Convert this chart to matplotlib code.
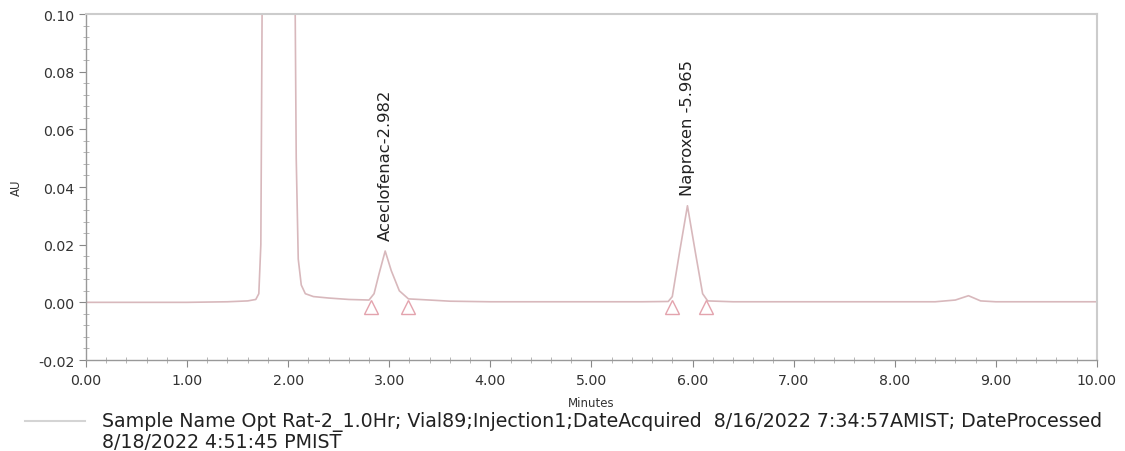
import matplotlib
matplotlib.use("Agg")
import matplotlib.pyplot as plt
from matplotlib.ticker import MultipleLocator, FormatStrFormatter
from matplotlib.lines import Line2D

plt.rcParams['font.family'] = ['DejaVu Sans']

# Chromatogram trace (minutes, AU)
time_min = [0.00, 0.50, 1.00, 1.40, 1.60, 1.68, 1.71, 1.73, 1.75, 1.80, 2.00, 2.06, 2.08,
            2.10, 2.13, 2.17, 2.25, 2.40, 2.60, 2.80, 2.85, 2.90, 2.96, 3.02, 3.10, 3.19,
            3.40, 3.60, 4.00, 4.50, 5.00, 5.50, 5.76, 5.80, 5.87, 5.95, 6.03, 6.10, 6.15,
            6.40, 7.00, 8.00, 8.40, 8.60, 8.73, 8.85, 9.00, 9.50, 10.00]
absorb_au = [0.0000, 0.0000, 0.0000, 0.0002, 0.0005, 0.0010, 0.0030, 0.0200, 0.1500, 0.6000, 0.6000, 0.1500, 0.0500,
             0.0150, 0.0060, 0.0030, 0.0020, 0.0015, 0.0010, 0.0008, 0.0030, 0.0100, 0.0178, 0.0110, 0.0040, 0.0012,
             0.0008, 0.0004, 0.0002, 0.0002, 0.0002, 0.0002, 0.0003, 0.0020, 0.0170, 0.0335, 0.0170, 0.0030, 0.0005,
             0.0002, 0.0002, 0.0002, 0.0002, 0.0008, 0.0023, 0.0005, 0.0002, 0.0002, 0.0002]

# Integration markers (peak start/end)
marker_times = [2.82, 3.19, 5.80, 6.13]
marker_au = [-0.0015, -0.0015, -0.0015, -0.0015]

# Peak labels
peak_names = ["Aceclofenac-2.982", "Naproxen -5.965"]
peak_times = [2.96, 5.95]
peak_heights = [0.0178, 0.0335]

legend_label = ("Sample Name Opt Rat-2_1.0Hr; Vial89;Injection1;DateAcquired  8/16/2022 7:34:57AMIST; "
                "DateProcessed\n8/18/2022 4:51:45 PMIST")

fig = plt.figure(figsize=(11.25, 4.52), dpi=100)
ax = fig.add_axes([0.0764, 0.2013, 0.8986, 0.7655])

ax.plot(time_min, absorb_au, color='#d8b8bc', lw=1.2)
ax.plot(marker_times, marker_au, linestyle='none', marker='^', markersize=10,
        markerfacecolor='none', markeredgecolor='#e3a3ad', markeredgewidth=1.0)

for name, t, h in zip(peak_names, peak_times, peak_heights):
    ax.text(t, h + 0.0038, name, rotation=90, ha='center', va='bottom',
            fontsize=11.8, color='#222222')

ax.set_xlim(0, 10)
ax.set_ylim(-0.02, 0.10)
ax.xaxis.set_major_locator(MultipleLocator(1))
ax.xaxis.set_minor_locator(MultipleLocator(0.2))
ax.yaxis.set_major_locator(MultipleLocator(0.02))
ax.yaxis.set_minor_locator(MultipleLocator(0.004))
ax.xaxis.set_major_formatter(FormatStrFormatter('%.2f'))
ax.yaxis.set_major_formatter(FormatStrFormatter('%.2f'))
ax.tick_params(axis='both', which='major', direction='out', length=5, width=0.8,
               color='#888888', labelsize=10.2, labelcolor='#333333')
ax.tick_params(axis='both', which='minor', direction='inout', length=4, width=0.6,
               color='#aaaaaa')
ax.tick_params(axis='x', which='major', pad=4)

for side in ['left', 'bottom']:
    ax.spines[side].set_color('#999999')
    ax.spines[side].set_linewidth(1.0)
for side in ['top', 'right']:
    ax.spines[side].set_color('#cccccc')
    ax.spines[side].set_linewidth(1.5)

ax.set_xlabel('Minutes', fontsize=8.5, color='#333333', labelpad=7)
ax.set_ylabel('AU', fontsize=8.5, color='#333333', labelpad=11)

# Legend entry drawn at figure level
fig.add_artist(Line2D([25 / 1125, 85 / 1125], [1 - 422 / 452, 1 - 422 / 452],
                      transform=fig.transFigure, color='#d4d4d4', lw=1.5))
fig.text(102 / 1125, 1 - 412 / 452, legend_label, ha='left', va='top',
         fontsize=13.7, color='#222222', linespacing=1.1)

fig.savefig('out.png', dpi=100)
